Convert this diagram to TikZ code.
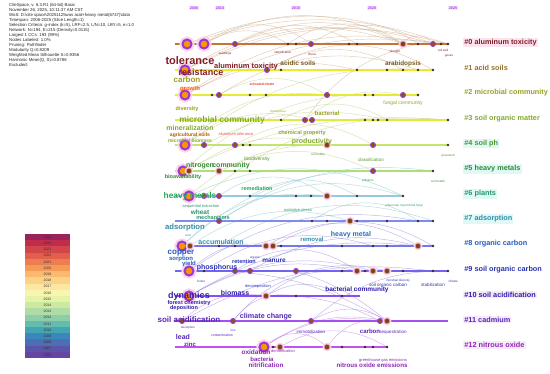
\documentclass[tikz,border=0pt]{standalone}
\usepackage{fontspec}
\setmainfont{Liberation Sans}
\pgfdeclarelayer{arcs}
\pgfdeclarelayer{lines}
\pgfsetlayers{arcs,lines,main}
\definecolor{c0}{RGB}{130,30,40}
\definecolor{c1}{RGB}{150,115,40}
\definecolor{c2}{RGB}{155,160,35}
\definecolor{c3}{RGB}{130,170,45}
\definecolor{c4}{RGB}{80,150,40}
\definecolor{c5}{RGB}{50,140,55}
\definecolor{c6}{RGB}{40,150,110}
\definecolor{c7}{RGB}{50,140,170}
\definecolor{c8}{RGB}{40,90,190}
\definecolor{c9}{RGB}{40,50,180}
\definecolor{c10}{RGB}{50,30,170}
\definecolor{c11}{RGB}{85,40,180}
\definecolor{c12}{RGB}{140,40,180}
\definecolor{l0}{RGB}{195,115,60}
\definecolor{l1}{RGB}{235,235,40}
\definecolor{l2}{RGB}{228,236,50}
\definecolor{l3}{RGB}{222,236,60}
\definecolor{l4}{RGB}{195,228,110}
\definecolor{l5}{RGB}{175,222,120}
\definecolor{l6}{RGB}{150,200,225}
\definecolor{l7}{RGB}{125,140,240}
\definecolor{l8}{RGB}{115,120,240}
\definecolor{l9}{RGB}{115,100,240}
\definecolor{l10}{RGB}{135,80,240}
\definecolor{l11}{RGB}{165,80,240}
\definecolor{l12}{RGB}{195,80,240}
\definecolor{dotc}{RGB}{70,40,30}
\definecolor{ringc}{RGB}{150,60,210}
\definecolor{bigc}{RGB}{120,70,25}
\definecolor{bgpink}{RGB}{252,228,238}
\definecolor{bgcyan}{RGB}{224,248,246}
\definecolor{bglav}{RGB}{248,234,250}
\definecolor{arcA}{RGB}{200,165,125}
\definecolor{arcB}{RGB}{190,200,110}
\definecolor{arcC}{RGB}{120,190,200}
\definecolor{arcD}{RGB}{140,120,220}
\definecolor{arcE}{RGB}{190,110,220}
\definecolor{arcP}{RGB}{240,150,180}
\definecolor{yrc}{RGB}{170,70,230}
\definecolor{yrbg}{RGB}{248,228,250}
\tikzset{
  tlline/.style={line width=1.1pt},
  tldot/.style={circle,fill=dotc,inner sep=0pt,minimum size=2.6pt},
  tlring/.style={circle,fill=bigc!80!orange,draw=ringc,line width=0.9pt,inner sep=0pt,minimum size=5pt},
  tlbig/.style={circle,fill=bigc,draw=arcP,line width=0.5pt,inner sep=0pt,minimum size=5.5pt,preaction={draw=arcP!35,line width=3pt}},
  tlhalo/.style={circle,fill=orange!85!yellow,draw=ringc,line width=2pt,inner sep=0pt,minimum size=9pt,preaction={draw=magenta!18,line width=6pt}},
  kw/.style={inner sep=0.2pt,font=\fontsize{#1}{#1}\selectfont\bfseries},
  sm/.style={inner sep=0.1pt,font=\fontsize{#1}{#1}\selectfont},
  cl/.style={anchor=west,inner sep=1.2pt,font=\fontsize{7.3}{8}\selectfont\bfseries},
  yr/.style={inner sep=0.8pt,font=\fontsize{3.8}{4}\selectfont\bfseries,text=yrc,fill=yrbg},
  tlarc/.style={line width=0.45pt,opacity=0.55},
}
\begin{document}
\begin{tikzpicture}[x=1pt,y=-1pt]
\useasboundingbox (0,0) rectangle (550,374);
\begin{pgfonlayer}{arcs}
\fill[white] (0,0) rectangle (550,374);
\end{pgfonlayer}

% header
\node[anchor=north west,align=left,inner sep=0pt,font=\fontsize{4.3}{5}\selectfont,text=black!85] (hdr) at (9,3.6) {CiteSpace, v. 6.3.R1 (64-bit) Basic\\
November 26, 2025, 10:11:37 AM CST\\
WoS: D:\textbackslash cite space\textbackslash 20251125wos acid+heavy metal(6747)\textbackslash data\\
Timespan: 2006-2025 (Slice Length=1)\\
Selection Criteria: g-index (k=5), LRF=2.5, L/N=10, LBY=5, e=1.0\\
Network: N=194, E=215 (Density=0.0115)\\
Largest 1 CCs: 193 (99\%)\\
Nodes Labeled: 1.0\%\\
Pruning: Pathfinder\\
Modularity Q=0.8209\\
Weighted Mean Silhouette S=0.9356\\
Harmonic Mean(Q, S)=0.8786\\
Excluded:};

% year axis
\node[yr] (y2006) at (194,8) {2006};
\node[yr] (y2010) at (220,8) {2010};
\node[yr] (y2015) at (296,8) {2015};
\node[yr] (y2020) at (372,8) {2020};
\node[yr] (y2025) at (453,8) {2025};

% timelines
\foreach \r/\y/\e in {0/44/448,1/70/433,2/95/418,3/120/448,4/145/448,5/171/433,6/196/403,7/221/433,8/246/433,9/271/448,10/296/360,11/321/448,12/347/388}{
  \coordinate (s\r) at (175,\y);
  \coordinate (e\r) at (\e,\y);
}
\begin{pgfonlayer}{lines}
\draw[tlline,draw=l0] (s0) -- (e0);
\draw[tlline,draw=l1] (s1) -- (e1);
\draw[tlline,draw=l2] (s2) -- (e2);
\draw[tlline,draw=l3] (s3) -- (e3);
\draw[tlline,draw=l4] (s4) -- (e4);
\draw[tlline,draw=l5] (s5) -- (e5);
\draw[tlline,draw=l6] (s6) -- (e6);
\draw[tlline,draw=l7] (s7) -- (e7);
\draw[tlline,draw=l8] (s8) -- (e8);
\draw[tlline,draw=l9] (s9) -- (e9);
\draw[tlline,draw=l10] (s10) -- (e10);
\draw[tlline,draw=l11] (s11) -- (e11);
\draw[tlline,draw=l12] (s12) -- (e12);
\end{pgfonlayer}

% nodes
\foreach \x/\s [count=\i] in {187/tlhalo,204/tlhalo,235/tlring,288/tldot,296/tldot,311/tlring,349/tldot,357/tldot,403/tlbig,418/tldot,433/tlring,441/tldot,448/tldot}
  \node[\s] (a0-\i) at (\x,44) {};
\foreach \x/\s [count=\i] in {185/tlhalo,267/tlring,281/tldot,357/tldot,387/tldot,403/tldot,418/tldot,433/tldot}
  \node[\s] (a1-\i) at (\x,70) {};
\foreach \x/\s [count=\i] in {185/tlhalo,212/tldot,219/tlring,250/tldot,266/tldot,327/tlring,365/tldot,373/tldot,403/tlring,418/tldot}
  \node[\s] (a2-\i) at (\x,95) {};
\foreach \x/\s [count=\i] in {281/tldot,305/tlring,312/tlring,365/tldot,373/tldot,378/tldot,387/tldot,448/tldot}
  \node[\s] (a3-\i) at (\x,120) {};
\foreach \x/\s [count=\i] in {185/tlhalo,204/tlring,235/tlring,243/tldot,250/tldot,327/tlbig,373/tlring,448/tldot}
  \node[\s] (a4-\i) at (\x,145) {};
\foreach \x/\s [count=\i] in {183/tlhalo,189/tlbig,219/tlbig,235/tldot,250/tldot,373/tlring,433/tldot}
  \node[\s] (a5-\i) at (\x,171) {};
\foreach \x/\s [count=\i] in {189/tlhalo,204/tlring,219/tlring,250/tldot,296/tldot,311/tldot,327/tlbig,357/tldot,403/tldot}
  \node[\s] (a6-\i) at (\x,196) {};
\foreach \x/\s [count=\i] in {219/tlring,312/tldot,327/tldot,350/tlbig,357/tldot,387/tldot,418/tldot,433/tldot}
  \node[\s] (a7-\i) at (\x,221) {};
\foreach \x/\s [count=\i] in {182/tlhalo,190/tlbig,219/tldot,235/tldot,266/tlbig,273/tlbig,281/tldot,342/tldot,373/tldot,387/tldot,418/tlbig,433/tldot}
  \node[\s] (a8-\i) at (\x,246) {};
\foreach \x/\s [count=\i] in {189/tlhalo,204/tldot,235/tlring,250/tlring,296/tlring,342/tldot,357/tlbig,365/tldot,373/tlbig,387/tlbig,403/tldot,433/tldot,448/tldot}
  \node[\s] (a9-\i) at (\x,271) {};
\foreach \x/\s [count=\i] in {189/tlhalo,266/tlbig,296/tldot,342/tldot}
  \node[\s] (a10-\i) at (\x,296) {};
\foreach \x/\s [count=\i] in {182/tlring,233/tlring,311/tlring,380/tlring,387/tlbig}
  \node[\s] (a11-\i) at (\x,321) {};
\foreach \x/\s [count=\i] in {264/tlhalo,273/tldot,280/tlbig,327/tlbig,342/tldot,365/tldot,373/tldot,387/tldot}
  \node[\s] (a12-\i) at (\x,347) {};

% arcs
\begin{pgfonlayer}{arcs}
\draw[tlarc,arcA] (a0-2) to[bend left=28] (a0-9);
\draw[tlarc,arcA] (a0-1) to[bend left=22] (a0-11);
\draw[tlarc,arcA] (a0-1) to[bend left=18] (a0-13);
\draw[tlarc,arcA] (a0-2) to[bend left=35] (a0-6);
\draw[tlarc,arcA] (a0-2) to[bend left=30] (a0-4);
\draw[tlarc,arcA] (a0-3) to[bend left=25] (a0-9);
\draw[tlarc,arcA] (a0-3) to[bend left=30] (a0-8);
\draw[tlarc,arcA] (a0-4) to[bend left=35] (a0-9);
\draw[tlarc,arcA] (a1-1) to[bend left=25] (a0-9);
\draw[tlarc,arcA] (a1-1) to[bend left=22] (a0-11);
\draw[tlarc,arcA] (a1-1) to[bend left=20] (a0-13);
\draw[tlarc,arcA] (a2-1) to[bend left=22] (a0-11);
\draw[tlarc,arcA] (a2-1) to[bend left=18] (a0-13);
\draw[tlarc,arcA] (a3-2) to[bend left=20] (a0-10);
\draw[tlarc,arcA] (a1-2) to[bend left=30] (a1-6);
\draw[tlarc,arcA] (a1-2) to[bend left=30] (a1-8);
\draw[tlarc,arcA] (a0-6) to[bend left=35] (a0-10);
\draw[tlarc,arcP] (a0-9) to[bend left=50] (a0-11);
\draw[tlarc,arcA] (a2-1) to[bend left=20] (a1-4);
\draw[tlarc,arcA] (a2-3) to[bend left=25] (a1-7);
\draw[tlarc,arcB] (a3-2) to[bend left=25] (a2-9);
\draw[tlarc,arcB] (a4-1) to[bend left=25] (a2-6);
\draw[tlarc,arcB] (a4-1) to[bend left=25] (a3-3);
\draw[tlarc,arcB] (a4-1) to[bend left=20] (a1-8);
\draw[tlarc,arcB] (a2-3) to[bend left=30] (a2-6);
\draw[tlarc,arcB] (a5-1) to[bend left=22] (a2-9);
\draw[tlarc,arcB] (a5-2) to[bend left=25] (a4-6);
\draw[tlarc,arcB] (a5-3) to[bend left=25] (a5-6);
\draw[tlarc,arcB] (a4-2) to[bend left=20] (a3-7);
\draw[tlarc,arcB] (a4-3) to[bend left=30] (a4-7);
\draw[tlarc,arcB] (a3-1) to[bend left=30] (a3-7);
\draw[tlarc,arcB] (a5-1) to[bend left=15] (a3-8);
\draw[tlarc,arcB] (a6-1) to[bend left=20] (a4-6);
\draw[tlarc,arcB] (a6-2) to[bend left=22] (a3-8);
\draw[tlarc,arcC] (a6-1) to[bend left=25] (a6-9);
\draw[tlarc,arcC] (a6-3) to[bend left=35] (a6-7);
\draw[tlarc,arcC] (a6-4) to[bend left=30] (a6-8);
\draw[tlarc,arcC] (a7-1) to[bend left=25] (a6-9);
\draw[tlarc,arcC] (a7-1) to[bend left=20] (a5-7);
\draw[tlarc,arcC] (a7-2) to[bend left=35] (a7-7);
\draw[tlarc,arcC] (a8-1) to[bend left=25] (a6-7);
\draw[tlarc,arcC] (a8-1) to[bend left=20] (a5-6);
\draw[tlarc,arcC] (a8-2) to[bend left=25] (a7-4);
\draw[tlarc,arcC] (a8-3) to[bend left=25] (a7-8);
\draw[tlarc,arcD] (a8-5) to[bend left=30] (a8-11);
\draw[tlarc,arcD] (a8-6) to[bend left=30] (a8-12);
\draw[tlarc,arcD] (a9-1) to[bend left=25] (a8-6);
\draw[tlarc,arcD] (a9-1) to[bend left=22] (a7-7);
\draw[tlarc,arcD] (a9-2) to[bend left=25] (a8-9);
\draw[tlarc,arcD] (a9-3) to[bend left=35] (a9-7);
\draw[tlarc,arcD] (a9-4) to[bend left=22] (a8-11);
\draw[tlarc,arcD] (a10-1) to[bend left=20] (a9-7);
\draw[tlarc,arcD] (a10-1) to[bend left=22] (a9-9);
\draw[tlarc,arcD] (a10-1) to[bend left=18] (a8-11);
\draw[tlarc,arcD] (a10-2) to[bend left=25] (a9-10);
\draw[tlarc,arcD] (a10-2) to[bend left=30] (a10-4);
\draw[tlarc,arcD] (a11-1) to[bend left=18] (a9-12);
\draw[tlarc,arcD] (a11-2) to[bend left=25] (a9-6);
\draw[tlarc,arcD] (a11-2) to[bend left=30] (a10-3);
\draw[tlarc,arcD] (a11-3) to[bend left=20] (a9-13);
\draw[tlarc,arcD] (a9-1) to[bend left=15] (a11-5);
\draw[tlarc,arcD] (a9-5) to[bend left=10] (a11-5);
\draw[tlarc,arcD] (a10-3) to[bend left=10] (a11-4);
\draw[tlarc,arcE] (a11-1) to[bend left=25] (a10-2);
\draw[tlarc,arcE] (a11-3) to[bend left=30] (a11-5);
\draw[tlarc,arcE] (a12-1) to[bend left=20] (a11-4);
\draw[tlarc,arcE] (a12-1) to[bend left=22] (a11-5);
\draw[tlarc,arcE] (a12-1) to[bend left=40] (a12-4);
\draw[tlarc,arcE] (a12-3) to[bend left=30] (a12-8);
\draw[tlarc,arcE] (a12-4) to[bend left=30] (a11-5);
\end{pgfonlayer}

% cluster labels
\node[cl,text=c0,fill=bgpink] (cl0) at (463,42.5) {\#0 aluminum toxicity};
\node[cl,text=c1] (cl1) at (463,68) {\#1 acid soils};
\node[cl,text=c2] (cl2) at (463,93) {\#2 microbial community};
\node[cl,text=c3] (cl3) at (463,118.5) {\#3 soil organic matter};
\node[cl,text=c4,fill=bgcyan] (cl4) at (463,143.5) {\#4 soil ph};
\node[cl,text=c5,fill=bgcyan] (cl5) at (463,169) {\#5 heavy metals};
\node[cl,text=c6,fill=bgcyan] (cl6) at (463,194) {\#6 plants};
\node[cl,text=c7,fill=bgcyan] (cl7) at (463,219) {\#7 adsorption};
\node[cl,text=c8] (cl8) at (463,244) {\#8 organic carbon};
\node[cl,text=c9] (cl9) at (463,269.5) {\#9 soil organic carbon};
\node[cl,text=c10,fill=bglav] (cl10) at (463,294.5) {\#10 soil acidification};
\node[cl,text=c11,fill=bglav] (cl11) at (463,319.5) {\#11 cadmium};
\node[cl,text=c12,fill=bglav] (cl12) at (463,345) {\#12 nitrous oxide};

% keyword labels, row 0-1
\node[sm=3,text=c0] (k01) at (225,54) {seedlings};
\node[sm=3,text=c0] (k02) at (283,52) {identification};
\node[sm=3,text=c0] (k03) at (312,55) {stress};
\node[sm=3,text=c0] (k04) at (395,52) {drought};
\node[sm=3,text=c0] (k05) at (443,50) {cell wall};
\node[sm=3,text=c0] (k06) at (449,56) {genes};
\node[kw=11,text=c0] (k10) at (190,60.5) {tolerance};
\node[kw=9,text=c0] (k11) at (201,72) {resistance};
\node[kw=7.5,text=c0] (k12) at (246,66.5) {aluminum toxicity};
\node[kw=6.5,text=c1!80!black] (k13) at (298,63) {acidic soils};
\node[kw=6.4,text=c1!80!black] (k14) at (403,64) {arabidopsis};
% row 2
\node[kw=8,text=c2] (k20) at (187,79.5) {carbon};
\node[kw=6,text=orange!70!red] (k21) at (190,89) {growth};
\node[sm=3.5,text=red!80!black] (k22) at (262,84) {activated citrate};
\node[sm=5,text=c2] (k23) at (403,103) {fungal community};
\node[kw=5.5,text=c2] (k24) at (187,109) {diversity};
\node[kw=6,text=c2] (k25) at (327,113) {bacterial};
\node[sm=3,text=c2] (k26) at (278,112) {rhizosphere};
% row 3
\node[kw=8.5,text=c3] (k30) at (222,120) {microbial community};
\node[kw=7,text=c3] (k31) at (190,128.5) {mineralization};
\node[kw=5.5,text=c3] (k32) at (302,133) {chemical property};
\node[kw=5,text=orange!70!black] (k33) at (190,135) {agricultural soils};
\node[sm=4,text=red!70] (k34) at (236,134.5) {aluminum tolerance};
\node[kw=5,text=c3] (k35) at (190,140.5) {microbial biomass};
\node[kw=7,text=c3] (k36) at (312,142) {productivity};
% row 4-5
\node[sm=3,text=c4] (k40) at (318,155) {soil fertility};
\node[sm=5,text=c4] (k41) at (257,159) {biodiversity};
\node[sm=4.5,text=c4] (k42) at (371,160) {classification};
\node[sm=3,text=c4] (k43) at (448,156) {grassland};
\node[kw=7,text=c5] (k50) at (200,166) {nitrogen};
\node[kw=7,text=c5] (k51) at (231,166) {community};
\node[kw=5.5,text=c5] (k52) at (183,177) {bioavailability};
\node[sm=3,text=c5] (k53) at (368,181) {pollution};
\node[sm=3,text=c5] (k54) at (438,181) {soil health};
% row 6
\node[kw=8.4,text=c6!80!green] (k60) at (190,196) {heavy metals};
\node[kw=5.5,text=c6!80!green] (k61) at (257,189) {remediation};
\node[sm=4,text=c6] (k62) at (201,206.5) {sequential extraction};
\node[kw=6.5,text=c6] (k63) at (200,212) {wheat};
\node[kw=5.5,text=c6] (k64) at (213,217.5) {mechanisms};
\node[sm=4,text=c6] (k65) at (298,210) {oxidative stress};
\node[sm=3,text=c6] (k66) at (404,206) {arbuscular mycorrhizal fungi};
% row 7-8
\node[kw=7.7,text=c7] (k70) at (185,228) {adsorption};
\node[sm=3,text=c7] (k71) at (188,235) {acid};
\node[kw=7,text=c7!80!blue] (k72) at (351,235) {heavy metal};
\node[kw=6,text=c7] (k73) at (312,239.5) {removal};
\node[kw=7,text=c7] (k80) at (221,242) {accumulation};
\node[kw=8,text=c8] (k81) at (181,253) {copper};
\node[kw=6,text=c8] (k82) at (181,258.5) {sorption};
\node[kw=6,text=c8] (k83) at (189,264) {yield};
% row 9
\node[kw=7,text=c9] (k90) at (217,268) {phosphorus};
\node[kw=5.5,text=c9] (k91) at (244,261.5) {retention};
\node[sm=3,text=c9] (k92) at (255,257.5) {organic};
\node[kw=6.5,text=c9] (k93) at (274,261) {manure};
\node[sm=3,text=c9] (k94) at (201,281) {forest};
\node[sm=4,text=c9] (k95) at (258,286) {decomposition};
\node[sm=3,text=c9] (k96) at (398,281) {microbial diversity};
\node[sm=3,text=c9] (k97) at (453,281) {climate};
\node[sm=4.5,text=c9] (k98) at (388,285) {soil organic carbon};
\node[sm=4.5,text=c9] (k99) at (433,285) {stabilization};
% row 10
\node[kw=9,text=c10] (k100) at (189,296) {dynamics};
\node[kw=7,text=c10] (k101) at (235,292.5) {biomass};
\node[kw=6.5,text=c10] (k102) at (357,290) {bacterial community};
\node[kw=5.5,text=c10] (k103) at (189,303) {forest chemistry};
\node[kw=5.5,text=c10] (k104) at (184,308) {deposition};
% row 11
\node[kw=8,text=c11] (k110) at (189,320) {soil acidification};
\node[kw=7.2,text=c11] (k111) at (266,317) {climate change};
\node[sm=3,text=c11] (k112) at (188,328) {desorption};
\node[sm=3,text=c11] (k113) at (233,330) {iron};
\node[sm=3.5,text=c11] (k114) at (222,335) {contamination};
\node[kw=7,text=c11] (k115) at (183,337) {lead};
\node[kw=6,text=c11] (k116) at (190,344) {zinc};
\node[sm=4.5,text=c11] (k117) at (311,332) {immobilization};
\node[kw=6,text=c11] (k118) at (370,331) {carbon};
\node[sm=4.5,text=c11] (k119) at (393,332) {sequestration};
% row 12
\node[kw=6.5,text=c12] (k120) at (256,352) {oxidation};
\node[sm=4,text=c12] (k121) at (283,351) {denitrification};
\node[kw=6,text=c12] (k122) at (262,359) {bacteria};
\node[kw=6.4,text=c12] (k123) at (266,365.5) {nitrification};
\node[kw=6.2,text=c12] (k124) at (372,365.5) {nitrous oxide emissions};
\node[sm=4,text=c12] (k125) at (383,360) {greenhouse gas emissions};

% legend
\foreach \yr/\cc [count=\i] in {2025/{155,35,90},2024/{190,45,75},2023/{210,70,75},2022/{225,95,75},2021/{238,125,80},2020/{245,155,90},2019/{250,185,110},2018/{252,210,135},2017/{252,230,160},2016/{248,245,175},2015/{230,242,165},2014/{205,232,160},2013/{175,220,165},2012/{140,205,170},2011/{100,188,175},2010/{65,165,180},2009/{60,135,185},2008/{75,110,180},2007/{90,85,170},2006/{100,70,160}}{
  \definecolor{legc}{RGB}{\cc}
  \node[draw=none,fill=legc,minimum width=45pt,minimum height=6.25pt,inner sep=0pt,
        font=\fontsize{3.5}{4}\selectfont,text=black!80] (leg\i) at (47.5,{234+3.1+(\i-1)*6.2}) {\yr};
}
\end{tikzpicture}
\end{document}
